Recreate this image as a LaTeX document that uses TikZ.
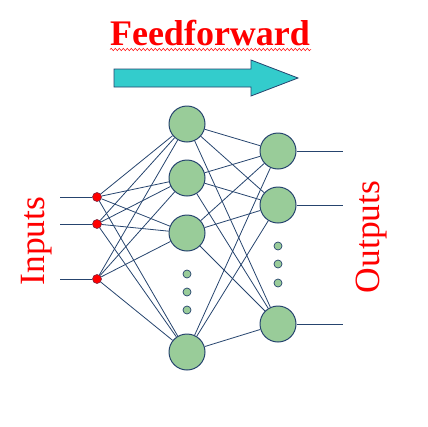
\documentclass[tikz,border=0pt]{standalone}
\usepackage{fontspec}
\setmainfont{Liberation Serif}
\usepackage{xcolor}
\usetikzlibrary{decorations.pathmorphing}

\definecolor{wire}{RGB}{38,68,110}
\definecolor{cellgreen}{RGB}{153,204,153}
\definecolor{arrowcyan}{RGB}{51,204,204}

\tikzset{
  neuron/.style={circle,draw=wire,fill=cellgreen,line width=1pt,minimum size=36pt,inner sep=0pt},
  dotcell/.style={circle,draw=wire,fill=cellgreen,line width=0.7pt,minimum size=8pt,inner sep=0pt},
  inputdot/.style={circle,draw=wire!60!red,fill=red,line width=0.6pt,minimum size=9pt,inner sep=0pt},
  wirelink/.style={draw=wire,line width=0.8pt},
  redlabel/.style={text=red,font=\fontsize{35.5}{35.5}\selectfont,inner sep=0pt}
}

\begin{document}
\begin{tikzpicture}[x=1pt,y=-1pt]
      \useasboundingbox (0,0) rectangle (428,426);

      % title and arrow
      \node[redlabel,font=\bfseries\fontsize{36}{36}\selectfont,anchor=base] (title) at (210,45) {Feedforward};
      \draw[red,line width=0.5pt,decorate,decoration={snake,segment length=4pt,amplitude=1.2pt}]
        (110,49.5) -- (311,49.5);
      \filldraw[draw=wire,fill=arrowcyan,line width=0.8pt]
        (114,69) -- (251,69) -- (251,60) -- (298,78) -- (251,96) -- (251,87) -- (114,87) -- cycle;

      % side labels
      \node[redlabel,rotate=90] (inlabel) at (37,241) {Inputs};
      \node[redlabel,rotate=90] (outlabel) at (372,237) {Outputs};

      % inputs
      \node[inputdot] (i1) at (97,197) {};
      \node[inputdot] (i2) at (97,224) {};
      \node[inputdot] (i3) at (97,279) {};
      \coordinate (x1) at (60,197);
      \coordinate (x2) at (60,224);
      \coordinate (x3) at (60,279);

      % hidden layer
      \node[neuron] (h1) at (187,124) {};
      \node[neuron] (h2) at (187,178) {};
      \node[neuron] (h3) at (187,233) {};
      \node[neuron] (h4) at (187,352) {};
      \node[dotcell] (hd1) at (187,274) {};
      \node[dotcell] (hd2) at (187,292) {};
      \node[dotcell] (hd3) at (187,310) {};

      % output layer
      \node[neuron] (o1) at (278,151) {};
      \node[neuron] (o2) at (278,205) {};
      \node[neuron] (o3) at (278,324) {};
      \node[dotcell] (od1) at (278,246) {};
      \node[dotcell] (od2) at (278,264) {};
      \node[dotcell] (od3) at (278,283) {};
      \coordinate (y1) at (343,151);
      \coordinate (y2) at (343,205);
      \coordinate (y3) at (343,324);

      \path[wirelink] (x1) edge (i1);
      \path[wirelink] (x2) edge (i2);
      \path[wirelink] (x3) edge (i3);

      \path[wirelink] (i1) edge (h1);
      \path[wirelink] (i1) edge (h2);
      \path[wirelink] (i1) edge (h3);
      \path[wirelink] (i1) edge (h4);
      \path[wirelink] (i2) edge (h1);
      \path[wirelink] (i2) edge (h2);
      \path[wirelink] (i2) edge (h3);
      \path[wirelink] (i2) edge (h4);
      \path[wirelink] (i3) edge (h1);
      \path[wirelink] (i3) edge (h2);
      \path[wirelink] (i3) edge (h3);
      \path[wirelink] (i3) edge (h4);

      \path[wirelink] (h1) edge (o1);
      \path[wirelink] (h1) edge (o2);
      \path[wirelink] (h1) edge (o3);
      \path[wirelink] (h2) edge (o1);
      \path[wirelink] (h2) edge (o2);
      \path[wirelink] (h2) edge (o3);
      \path[wirelink] (h3) edge (o1);
      \path[wirelink] (h3) edge (o2);
      \path[wirelink] (h3) edge (o3);
      \path[wirelink] (h4) edge (o1);
      \path[wirelink] (h4) edge (o2);
      \path[wirelink] (h4) edge (o3);

      \path[wirelink] (o1) edge (y1);
      \path[wirelink] (o2) edge (y2);
      \path[wirelink] (o3) edge (y3);

    \end{tikzpicture}
\end{document}
